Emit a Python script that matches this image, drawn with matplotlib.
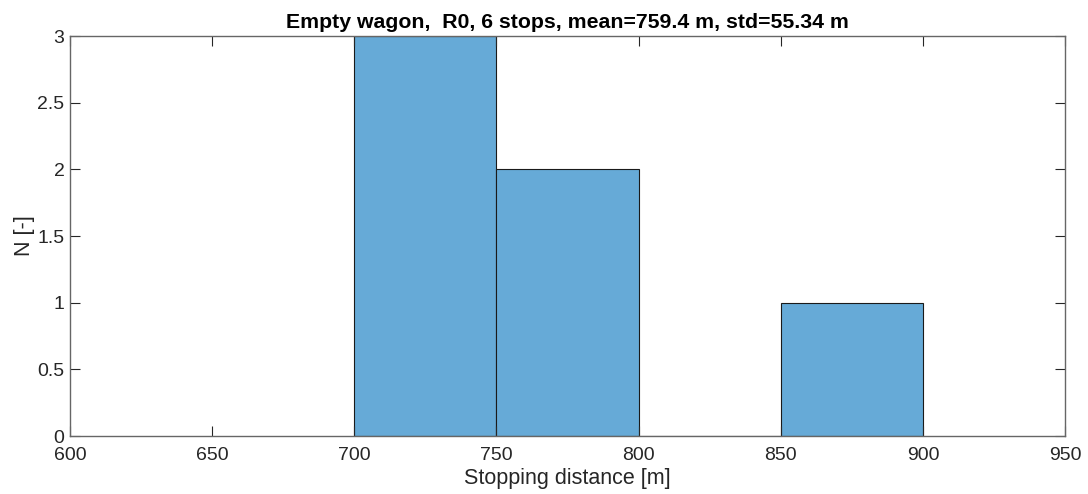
import numpy as np
import matplotlib.pyplot as plt
from matplotlib.ticker import FuncFormatter

plt.rcParams['font.family'] = ['Liberation Sans', 'DejaVu Sans']

# histogram bins (stopping distance, m) and counts
binEdges = [700, 750, 800, 850, 900]
counts = [3, 2, 0, 1]
xTicks = [600, 650, 700, 750, 800, 850, 900, 950]
yTicks = [0, 0.5, 1, 1.5, 2, 2.5, 3]
titleText = 'Empty wagon,  R0, 6 stops, mean=759.4 m, std=55.34 m'

fig = plt.figure(figsize=(10.88, 4.94), dpi=100)
ax = fig.add_axes([0.0643, 0.1174, 0.9147, 0.8096])

ax.hist(binEdges[:-1], bins=binEdges, weights=counts,
        color='#66aad7', edgecolor='#1a1a1a', linewidth=0.8)

ax.set_xlim(600, 950)
ax.set_ylim(0, 3)
ax.set_xticks(xTicks)
ax.set_yticks(yTicks)
ax.yaxis.set_major_formatter(FuncFormatter(lambda v, p: '%g' % v))

ax.tick_params(direction='in', length=7, width=0.8, top=True, right=True,
               labelsize=14, colors='#262626', labelcolor='#262626')
ax.tick_params(axis='x', pad=8)
ax.tick_params(axis='y', pad=4)
for s in ax.spines.values():
    s.set_color('#666666')
    s.set_linewidth(1.0)

ax.set_xlabel('Stopping distance [m]', fontsize=15.5, color='#262626', labelpad=3)
ax.set_ylabel('N [-]', fontsize=15.5, color='#262626', labelpad=2)
ax.set_title(titleText, fontsize=15.3, fontweight='bold', pad=6)

fig.savefig('out.png', dpi=100)
